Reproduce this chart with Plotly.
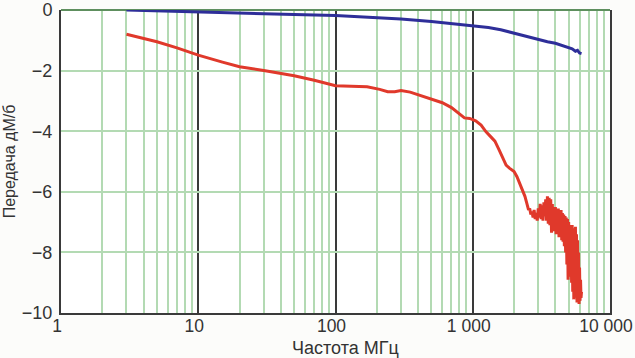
import plotly.graph_objects as go

# Frequency (MHz) and transmission (dB) data
blue_f = [3, 5, 10, 20, 50, 100, 150, 200, 300, 500, 700, 1000, 1300, 1600, 2000,
          2500, 3000, 3500, 4000, 4500, 5000, 5300, 5600, 5800, 6000, 6200]
blue_db = [0.0, -0.03, -0.08, -0.11, -0.15, -0.18, -0.22, -0.25, -0.30, -0.38, -0.45,
           -0.52, -0.58, -0.65, -0.77, -0.88, -0.99, -1.05, -1.10, -1.17, -1.25,
           -1.28, -1.36, -1.33, -1.42, -1.44]

red_f = [3, 5, 7, 10, 15, 20, 30, 50, 70, 100, 130, 170, 210, 240, 270, 300, 350, 420,
         500, 600, 700, 800, 870, 950, 1050, 1150, 1250, 1350, 1450, 1550, 1650, 1750,
         1850, 2000, 2100, 2200, 2300, 2400,
         2500, 2550, 2600, 2650, 2700, 2750, 2800, 2850, 2900, 2950,
         3000, 3050, 3100, 3150, 3200, 3250, 3300, 3350, 3400, 3450,
         3500, 3550, 3600, 3650, 3700, 3750, 3800, 3850, 3900, 3950,
         4000, 4050, 4100, 4150, 4200, 4250, 4300, 4350, 4400, 4450,
         4500, 4550, 4600, 4650, 4700, 4750, 4800, 4850, 4900, 4950,
         5000, 5050, 5100, 5150, 5200, 5250, 5300, 5350, 5400, 5450,
         5500, 5550, 5600, 5650, 5700, 5750, 5800, 5850, 5900, 5950,
         6000, 6050, 6100, 6150, 6200]
red_db = [-0.80, -1.05, -1.25, -1.49, -1.72, -1.87, -2.00, -2.17, -2.32, -2.50, -2.52,
          -2.53, -2.62, -2.70, -2.70, -2.66, -2.71, -2.83, -2.92, -3.06, -3.22, -3.42,
          -3.56, -3.58, -3.66, -3.80, -4.02, -4.18, -4.33, -4.60, -4.85, -5.12, -5.22,
          -5.33, -5.50, -5.72, -5.95, -6.15,
          -6.45, -6.60, -6.55, -6.75, -6.65, -6.85, -6.60, -6.90, -6.70, -6.95,
          -6.55, -6.85, -6.40, -6.90, -6.45, -6.95, -6.35, -6.80, -6.25, -6.95,
          -6.15, -7.05, -6.20, -7.10, -6.25, -7.35, -6.40, -7.30, -6.55, -7.20,
          -6.50, -7.40, -6.60, -7.30, -6.55, -7.50, -6.65, -7.45, -6.60, -7.60,
          -6.70, -7.65, -6.75, -7.80, -6.80, -8.00, -6.85, -8.40, -6.90, -8.90,
          -7.00, -8.60, -7.10, -8.80, -7.15, -9.00, -7.10, -9.30, -7.20, -9.55,
          -7.30, -9.40, -7.15, -9.50, -7.40, -9.65, -7.60, -9.60, -8.00, -9.70,
          -8.50, -9.60, -8.90, -9.50, -9.30]

x_tickvals = [1, 10, 100, 1000, 10000]
x_ticktext = ["1", "10", "100", "1 000", "10 000"]
y_tickvals = [0, -2, -4, -6, -8, -10]

GREEN = "#b3dab3"
DARK = "#3a3a3a"
TEXT = "#333333"

fig = go.Figure()
fig.add_trace(go.Scatter(x=blue_f, y=blue_db, mode="lines",
                         line=dict(color="#2e2e99", width=3), showlegend=False))
fig.add_trace(go.Scatter(x=red_f, y=red_db, mode="lines",
                         line=dict(color="#e0392b", width=3), showlegend=False))

fig.update_layout(
    width=635, height=358,
    margin=dict(l=61, r=25, t=10, b=45),
    paper_bgcolor="#fcfcfa", plot_bgcolor="#ffffff",
    font=dict(family="Liberation Sans, Arial, sans-serif", size=16, color=TEXT),
)
fig.update_xaxes(
    type="log", range=[0, 4], automargin=False,
    tickvals=x_tickvals, ticktext=x_ticktext,
    tickfont=dict(size=17.5, color=TEXT), ticklabeloverflow="allow",
    ticklabelstandoff=-4, ticklabelshift=-4,
    showgrid=True, gridcolor=DARK, gridwidth=1.5,
    minor=dict(dtick="D1", showgrid=True, gridcolor=GREEN, gridwidth=2, ticks=""),
    showline=True, linecolor=DARK, linewidth=2, mirror=False,
    ticks="", zeroline=False,
)
fig.update_yaxes(
    range=[-10, 0], tickvals=y_tickvals, automargin=False,
    tickfont=dict(size=18, color=TEXT), ticklabeloverflow="allow",
    showgrid=True, gridcolor=GREEN, gridwidth=2,
    zeroline=True, zerolinecolor="#5e8f5e", zerolinewidth=2,
    showline=True, linecolor=DARK, linewidth=2, mirror=True,
    ticks="", ticklabelstandoff=3,
    title=dict(text="Передача дМ/б", font=dict(size=16, color=TEXT), standoff=2),
)
fig.add_annotation(
    text="Частота МГц", xref="paper", yref="paper", x=0.519, y=-0.115,
    xanchor="center", yanchor="middle", showarrow=False,
    font=dict(size=18, color=TEXT),
)

fig.write_html("out.html", config={"displayModeBar": False},
               post_script="document.body.style.margin='0';")
